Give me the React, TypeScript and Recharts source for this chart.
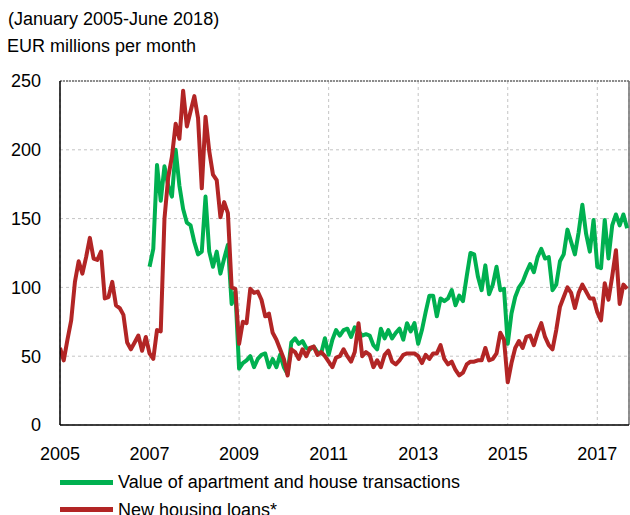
import { LineChart, Line, XAxis, YAxis, CartesianGrid, ReferenceLine } from 'recharts';

// monthly values from Jan 2005, EUR millions per month
const START_YEAR = 2005;
const LAST_MONTH = 152.5;

const LOANS = [
  56, 47, 62, 76, 104, 119, 110, 122, 136, 121, 120, 126,
  92, 93, 104, 87, 85, 80, 60, 55, 60, 65, 54, 64,
  52, 48, 69, 68, 150, 180, 195, 219, 208, 243, 217, 228,
  239, 223, 172, 224, 199, 182, 178, 151, 162, 154, 100, 99,
  59, 75, 74, 99, 96, 97, 91, 79, 81, 67, 62, 55,
  48, 36, 55, 53, 48, 55, 50, 56, 57, 51, 53, 50,
  46, 42, 49, 50, 55, 50, 46, 53, 74, 50, 53, 51,
  42, 47, 42, 51, 54, 46, 44, 47, 51, 52, 52, 52,
  50, 45, 51, 48, 52, 52, 58, 48, 44, 46, 40, 36,
  38, 44, 46, 46, 47, 47, 56, 47, 48, 52, 67, 62,
  31, 45, 56, 61, 56, 64, 65, 58, 67, 74, 64, 58,
  55, 69, 86, 93, 100, 96, 85, 96, 102, 97, 92, 92,
  82, 76, 103, 91, 108, 127, 88, 102, 99,
];

const TRANSACTIONS = [
  null, null, null, null, null, null, null, null, null, null, null, null,
  null, null, null, null, null, null, null, null, null, null, null, null,
  115, 128, 189, 163, 188, 174, 166, 200, 174, 157, 147, 145,
  133, 124, 126, 166, 126, 115, 126, 110, 121, 131, 88, 97,
  41, 45, 47, 50, 42, 48, 51, 52, 42, 48, 42, 51,
  42, 37, 60, 63, 59, 61, 56, 55, 57, 53, 52, 63,
  51, 62, 69, 65, 69, 70, 64, 71, 68, 65, 66, 65,
  58, 55, 70, 63, 69, 63, 67, 70, 62, 74, 68, 74,
  59, 69, 82, 94, 94, 79, 92, 90, 92, 98, 87, 94,
  90, 108, 125, 124, 108, 98, 116, 95, 102, 115, 98, 99,
  59, 81, 93, 100, 104, 111, 117, 111, 122, 128, 121, 122,
  98, 102, 119, 124, 142, 133, 124, 140, 160, 139, 126, 149,
  115, 114, 149, 121, 145, 153, 145, 153, 143,
];

const X_TICKS = [2005, 2007, 2009, 2011, 2013, 2015, 2017];
const Y_TICKS = [0, 50, 100, 150, 200, 250];

const GREEN = '#00B050';
const RED = '#B22525';
const FONT = '"Liberation Sans", Arial, sans-serif';

const data = LOANS.map((v, i) => ({
  t: START_YEAR + i / 12,
  loans: v,
  trans: TRANSACTIONS[i],
}));

const TICK = { fontSize: 18, fill: '#000', fontFamily: FONT };
const X_MAX = START_YEAR + LAST_MONTH / 12;

const textStyle = {
  position: 'absolute' as const,
  fontFamily: FONT,
  fontSize: 18,
  lineHeight: '18px',
  color: '#000',
  whiteSpace: 'nowrap' as const,
};

export default function App() {
  return (
    <div style={{ position: 'absolute', left: 0, top: 0, width: 630, height: 515, overflow: 'hidden', background: '#fff' }}>
      <div style={{ ...textStyle, left: 8, top: 10 }}>(January 2005-June 2018)</div>
      <div style={{ ...textStyle, left: 7, top: 37 }}>EUR millions per month</div>

      <LineChart width={630} height={515} data={data}
        margin={{ top: 81, right: 1, left: 0, bottom: 50 }}>
        <CartesianGrid stroke="#C4C4C4" strokeDasharray="3 3" verticalPoints={undefined} />
        <XAxis dataKey="t" type="number" domain={[START_YEAR, X_MAX]} ticks={X_TICKS}
          allowDataOverflow height={40} tick={TICK} tickLine={false} tickSize={0} tickMargin={22}
          axisLine={{ stroke: '#000', strokeWidth: 1.5 }} />
        <YAxis type="number" domain={[0, 250]} ticks={Y_TICKS} width={60} tick={TICK}
          tickLine={false} tickSize={0} tickMargin={19}
          axisLine={{ stroke: '#000', strokeWidth: 1.5 }} />
        <ReferenceLine y={250} stroke="#6E6E6E" strokeWidth={1.5} strokeDasharray="2 1" />
        <ReferenceLine x={X_MAX} stroke="#6E6E6E" strokeWidth={1.5} />
        <Line type="linear" dataKey="trans" stroke={GREEN} strokeWidth={4} dot={false}
          connectNulls={false} isAnimationActive={false} strokeLinejoin="round" />
        <Line type="linear" dataKey="loans" stroke={RED} strokeWidth={4} dot={false}
          isAnimationActive={false} strokeLinejoin="round" />
      </LineChart>

      <div style={{ position: 'absolute', left: 60, top: 480, width: 53, height: 4.5, background: GREEN }} />
      <div style={{ ...textStyle, left: 118, top: 473 }}>Value of apartment and house transactions</div>
      <div style={{ position: 'absolute', left: 60, top: 507, width: 53, height: 4.5, background: RED }} />
      <div style={{ ...textStyle, left: 118, top: 501 }}>New housing loans*</div>
    </div>
  );
}
